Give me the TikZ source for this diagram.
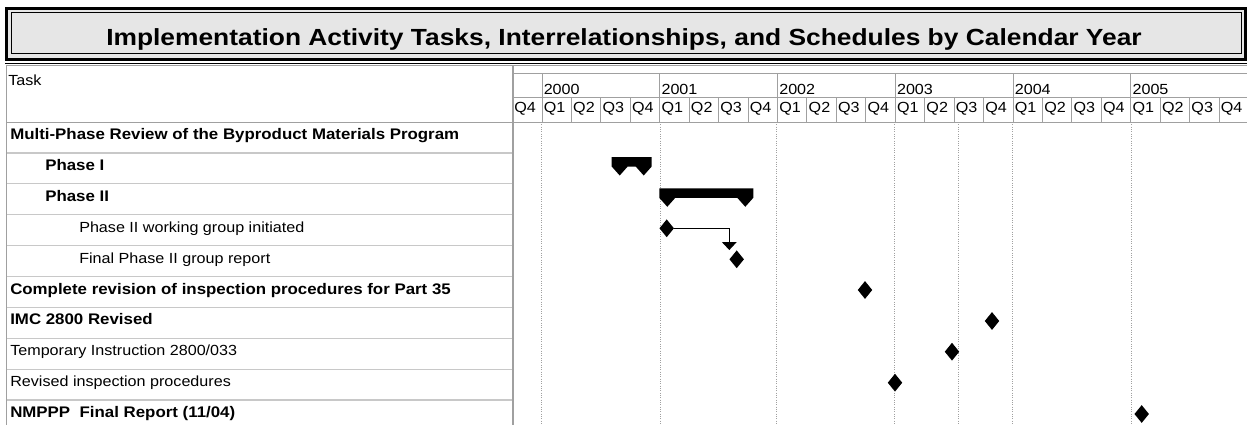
\documentclass[tikz,border=0pt]{standalone}
\usepackage{fontspec}
\setmainfont{Liberation Sans}
\newfontfamily\ganttfont[FakeStretch=1.1]{Liberation Sans}
\newfontfamily\titlefont[FakeStretch=1.13]{Liberation Sans}
\usetikzlibrary{arrows.meta, positioning, shapes.geometric, calc}
\definecolor{gridgray}{HTML}{A0A0A0}
\definecolor{rowgray}{HTML}{C8C8C8}
\definecolor{titlefill}{HTML}{E6E6E6}
\tikzset{
  titletext/.style={font=\titlefont\fontsize{17.5}{20}\selectfont\bfseries, inner sep=0pt, anchor=base},
  hdr/.style={font=\ganttfont\fontsize{11}{13}\selectfont, anchor=base west, inner sep=0pt},
  tbold/.style={font=\ganttfont\fontsize{11.5}{13}\selectfont\bfseries, anchor=base west, inner sep=0pt},
  tplain/.style={font=\ganttfont\fontsize{11}{13}\selectfont, anchor=base west, inner sep=0pt},
  milestone/.style={diamond, fill=black, inner sep=0pt, minimum width=11pt, minimum height=13.5pt},
  gridln/.style={draw=gridgray, line width=0.75pt},
  rowln/.style={draw=rowgray, line width=1pt},
  dotln/.style={draw=gridgray, line width=0.75pt, densely dotted},
  link/.style={-{Triangle[width=11pt, length=6pt]}, line width=0.75pt},
}
% summary bar: left x, right x, top y
\newcommand{\sumbar}[3]{%
  \fill (#1,#3) -- (#2,#3) -- (#2,#3+9.5) -- (#2-8,#3+18.5) -- (#2-16,#3+9.5)
    -- (#1+16,#3+9.5) -- (#1+8,#3+18.5) -- (#1,#3+9.5) -- cycle;}

\begin{document}
\begin{tikzpicture}[x=0.75pt, y=-0.75pt]
  \useasboundingbox (0,0) rectangle (1247,425);
  % title box
  \draw[line width=2.25pt, fill=titlefill] (6.5,8.5) rectangle (1245.5,59);
  \draw[line width=0.75pt] (11,12.5) rectangle (1241,53.5);
  \node (title) [titletext] at (624,45) {Implementation Activity Tasks, Interrelationships, and Schedules by Calendar Year};
  \draw[line width=0.75pt] (5,63) -- (1247,63);

  % table frame
  \draw[gridln] (6,65.5) -- (1247,65.5);
  \draw[gridln] (6,65.5) -- (6,425);
  \draw[draw=gridgray, line width=1.5pt] (512.5,65.5) -- (512.5,425);
  \draw[gridln] (512.5,73.5) -- (1247,73.5);
  \draw[gridln] (512.5,97.5) -- (1247,97.5);
  \draw[gridln] (6,122) -- (1247,122);
  \foreach \r in {1,...,9}
    \draw[rowln] (6.5,122+\r*30.9) -- (511.5,122+\r*30.9);

  % time scale
  \foreach \k in {0,...,23} {
    \draw[gridln] (542+\k*29.44,97.5) -- (542+\k*29.44,122);
    \pgfmathtruncatemacro\qn{mod(\k+4,4)+1}
    \node (q\k) [hdr] at (543.5+\k*29.44,112) {Q\qn};
  }
  \node (q0) [hdr] at (514,112) {Q4};
  \foreach \y [count=\i from 0] in {2000,...,2005} {
    \draw[gridln] (542+\i*117.76,73.5) -- (542+\i*117.76,97.5);
    \node (yr\i) [hdr] at (543.5+\i*117.76,94) {\y};
  }
  \foreach \x in {541.7,660,776.7,894.7,958.3,1012.7,1131}
    \draw[dotln] (\x,122) -- (\x,425);

  % tasks
  \node (task) [hdr] at (8,85) {Task};
  \node (t1) [tbold] at (10,139.5) {Multi-Phase Review of the Byproduct Materials Program};
  \node (t2) [tbold] at (45,170.4) {Phase I};
  \node (t3) [tbold] at (45,201.3) {Phase II};
  \node (t4) [tplain] at (79,232.2) {Phase II working group initiated};
  \node (t5) [tplain] at (79,263.1) {Final Phase II group report};
  \node (t6) [tbold] at (10,294) {Complete revision of inspection procedures for Part 35};
  \node (t7) [tbold] at (10,324.9) {IMC 2800 Revised};
  \node (t8) [tplain] at (10,355.8) {Temporary Instruction 2800/033};
  \node (t9) [tplain] at (10,386.7) {Revised inspection procedures};
  \node (t10) [tbold] at (10,417.6) {NMPPP\ \ Final Report (11/04)};

  % bars and milestones
  \sumbar{611.7}{651.7}{157}
  \sumbar{659.3}{753.3}{188.3}
  \node (m1) [milestone] at (666.7,228.3) {};
  \node (m2) [milestone] at (736.7,259.3) {};
  \node (m3) [milestone] at (865,290) {};
  \node (m4) [milestone] at (992,321) {};
  \node (m5) [milestone] at (952,351.7) {};
  \node (m6) [milestone] at (895,382.7) {};
  \node (m7) [milestone] at (1141.7,414) {};
  \draw[link] (m1.east) -| ($(m2.north)+(-7.4,0)$);
\end{tikzpicture}
\end{document}
